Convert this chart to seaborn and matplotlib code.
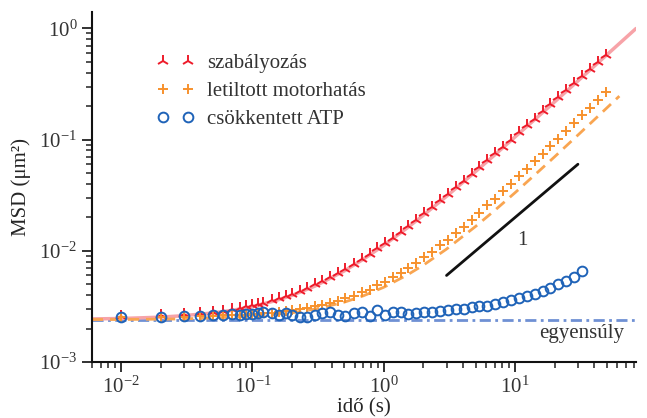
import matplotlib
matplotlib.use("Agg")
import matplotlib.pyplot as plt
from matplotlib.lines import Line2D
import pandas as pd
import seaborn as sns

# mérési időpontok (s)
time_s = [0.01, 0.02, 0.03, 0.04, 0.05, 0.06, 0.07, 0.08, 0.09, 0.10,
          0.11, 0.12, 0.14, 0.16, 0.18, 0.20, 0.23, 0.26, 0.30, 0.34,
          0.39, 0.45, 0.51, 0.59, 0.68, 0.78, 0.89, 1.02, 1.17, 1.34,
          1.54, 1.77, 2.03, 2.33, 2.68, 3.07, 3.53, 4.05, 4.65, 5.34,
          6.13, 7.04, 8.08, 9.28, 10.66, 12.24, 14.05, 16.14, 18.53, 21.28,
          24.44, 28.07, 32.23, 37.01, 42.50, 48.80]

msd_control = [0.00258, 0.00262, 0.00268, 0.00275, 0.00282, 0.00290, 0.00298, 0.00308, 0.00316, 0.00327,
               0.00334, 0.00342, 0.00358, 0.00376, 0.00395, 0.00410, 0.00438, 0.00462, 0.00500, 0.00532,
               0.00580, 0.00630, 0.00690, 0.00760, 0.00848, 0.00935, 0.0105, 0.0117, 0.0131, 0.0148,
               0.0168, 0.0190, 0.0218, 0.0247, 0.0284, 0.0323, 0.0372, 0.0428, 0.0490, 0.0566,
               0.0650, 0.0752, 0.0866, 0.100, 0.116, 0.134, 0.154, 0.179, 0.207, 0.240,
               0.278, 0.322, 0.373, 0.432, 0.500, 0.580]

msd_motor = [0.00252, 0.00254, 0.00256, 0.00257, 0.00259, 0.00262, 0.00263, 0.00266, 0.00267, 0.00270,
             0.00272, 0.00273, 0.00278, 0.00283, 0.00286, 0.00292, 0.00298, 0.00306, 0.00316, 0.00325,
             0.00340, 0.00352, 0.00375, 0.00392, 0.00428, 0.00448, 0.00490, 0.00522, 0.00580, 0.00628,
             0.00702, 0.00776, 0.00880, 0.00978, 0.0112, 0.0126, 0.0145, 0.0165, 0.0191, 0.0219,
             0.0256, 0.0294, 0.0344, 0.0399, 0.0467, 0.0543, 0.0637, 0.0743, 0.0872, 0.102,
             0.120, 0.140, 0.165, 0.193, 0.228, 0.270]

msd_atp = [0.00254, 0.00256, 0.00258, 0.00257, 0.00262, 0.00264, 0.00268, 0.00266, 0.00270, 0.00272,
           0.00278, 0.00283, 0.00274, 0.00266, 0.00275, 0.00263, 0.00255, 0.00256, 0.00264, 0.00278,
           0.00283, 0.00264, 0.00258, 0.00278, 0.00279, 0.00258, 0.00292, 0.00265, 0.00283, 0.00284,
           0.00270, 0.00274, 0.00283, 0.00282, 0.00290, 0.00292, 0.00298, 0.00302, 0.00310, 0.00316,
           0.00322, 0.00332, 0.00345, 0.00360, 0.00375, 0.00392, 0.00410, 0.00432, 0.00462, 0.00502,
           0.00540, 0.00580, 0.00660]

# illesztett görbék
fit_t_control = [0.006, 0.01, 0.02, 0.03, 0.05, 0.07, 0.1, 0.15, 0.2, 0.3, 0.5, 0.7,
                 1, 1.5, 2, 3, 5, 7, 10, 15, 20, 30, 50, 83]
fit_control = [0.00244, 0.00246, 0.00253, 0.00261, 0.00276, 0.00291, 0.00315, 0.00356, 0.00397, 0.00482,
               0.00659, 0.00841, 0.0112, 0.0160, 0.0209, 0.0309, 0.0517, 0.0730, 0.106, 0.162,
               0.219, 0.337, 0.581, 0.997]

fit_t_motor = [0.006, 0.01, 0.03, 0.1, 0.2, 0.3, 0.5, 0.7, 1, 1.5, 2, 3, 5, 7, 10, 15, 20, 30, 45, 62]
fit_motor = [0.00241, 0.00241, 0.00244, 0.00257, 0.00277, 0.00299, 0.00345, 0.00394, 0.0047, 0.00604,
             0.00743, 0.01036, 0.01658, 0.02314, 0.0334, 0.0515, 0.0703, 0.1098, 0.1721, 0.246]

eq_t = [0.006, 83]
eq_msd = [0.0024, 0.0024]

slope_t = [3, 30]
slope_msd = [0.006, 0.06]

labels = ["szabályozás", "letiltott motorhatás", "csökkentett ATP"]
c_red = "#ee1c2b"
c_orange = "#f7922d"
c_blue = "#1f63b8"

sns.set_style("ticks")
plt.rcParams["font.family"] = ["Liberation Serif", "DejaVu Serif"]
plt.rcParams["mathtext.fontset"] = "custom"
plt.rcParams["mathtext.rm"] = "Liberation Serif"
plt.rcParams["mathtext.it"] = "Liberation Serif:italic"
plt.rcParams["text.color"] = "#333333"
plt.rcParams["xtick.color"] = "#222222"
plt.rcParams["ytick.color"] = "#222222"
plt.rcParams["xtick.labelcolor"] = "#333333"
plt.rcParams["ytick.labelcolor"] = "#333333"

fig = plt.figure(figsize=(6.47, 4.18), dpi=100)
ax = fig.add_axes([0.142, 0.134, 0.841, 0.837])
ax.set_xscale("log")
ax.set_yscale("log")

sns.lineplot(x=eq_t, y=eq_msd, ax=ax, color="#6f90d4", lw=2,
             linestyle=(0, (4, 1.6, 1, 1.6)))
sns.lineplot(x=fit_t_control, y=fit_control, ax=ax, color="#f7a3a8", lw=2.5)
sns.lineplot(x=fit_t_motor, y=fit_motor, ax=ax, color="#f9a551", lw=2,
             linestyle=(0, (4, 2.5)))
sns.lineplot(x=slope_t, y=slope_msd, ax=ax, color="#111111", lw=2)

df_c = pd.DataFrame({"t": time_s, "msd": msd_control})
df_m = pd.DataFrame({"t": time_s, "msd": msd_motor})
df_a = pd.DataFrame({"t": time_s[:len(msd_atp)], "msd": msd_atp})

sns.lineplot(data=df_c, x="t", y="msd", ax=ax, linestyle="", marker="2",
             markersize=9, markeredgewidth=1.4, color=c_red, markeredgecolor=c_red)
sns.lineplot(data=df_m, x="t", y="msd", ax=ax, linestyle="", marker="+",
             markersize=7, markeredgewidth=1.4, color=c_orange, markeredgecolor=c_orange)
sns.lineplot(data=df_a, x="t", y="msd", ax=ax, linestyle="", marker="o",
             markersize=7, markeredgewidth=1.4, markerfacecolor="none",
             color=c_blue, markeredgecolor=c_blue)

ax.text(11.3, 0.0125, "1", fontsize=15, ha="center", va="center")
ax.text(32, 0.00182, "egyensúly", fontsize=15, ha="center", va="center")

handles = [
    Line2D([], [], linestyle="", marker="2", markersize=9, markeredgewidth=1.4, color=c_red),
    Line2D([], [], linestyle="", marker="+", markersize=7, markeredgewidth=1.4, color=c_orange),
    Line2D([], [], linestyle="", marker="o", markersize=7, markeredgewidth=1.4,
           markerfacecolor="none", color=c_blue),
]
ax.legend(handles, labels, numpoints=2, frameon=False, fontsize=15,
          loc="upper left", bbox_to_anchor=(0.085, 0.935), handlelength=1.8,
          handletextpad=0.6, labelspacing=0.4)

ax.set_xlim(0.006, 83)
ax.set_ylim(1e-3, 1.4)
ax.set_xlabel("idő (s)", fontsize=15, labelpad=0)
ax.set_ylabel("MSD (μm²)", fontsize=15, labelpad=6)
ax.tick_params(which="major", length=7, width=1.3, labelsize=15, direction="out")
ax.tick_params(which="minor", length=4, width=1.1, direction="out")
for s in ["left", "bottom"]:
    ax.spines[s].set_linewidth(1.5)
    ax.spines[s].set_color("#111111")
sns.despine(ax=ax)

fig.savefig("out.png", dpi=100)
